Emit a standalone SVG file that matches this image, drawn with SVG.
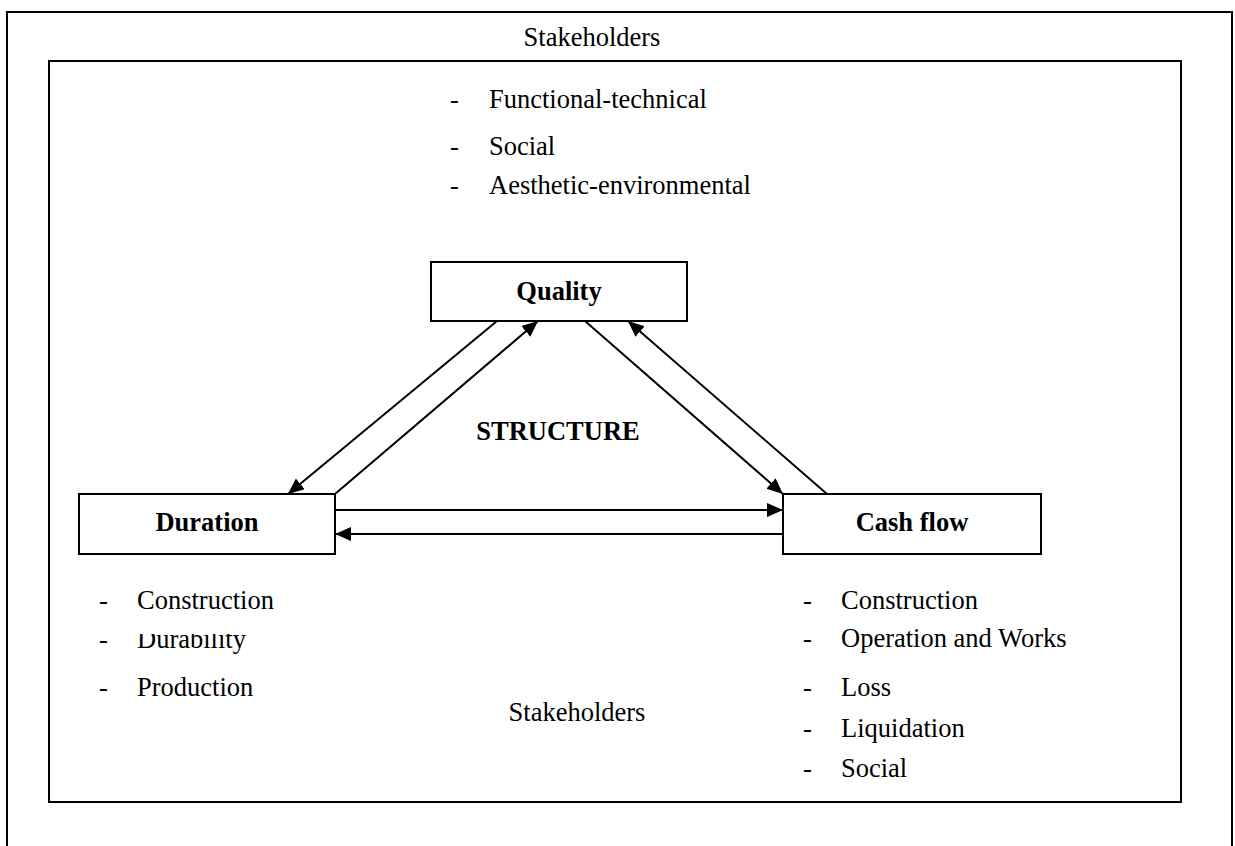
<svg xmlns="http://www.w3.org/2000/svg" width="1235" height="846" viewBox="0 0 1235 846">
<style>
.frame{fill:none;stroke:#000;stroke-width:2}
.box{fill:#fff;stroke:#000;stroke-width:2}
.t{font-family:"Liberation Serif","Times New Roman",serif;font-size:26.5px;fill:#000}
.b{font-weight:bold}
.c{stroke:#000;stroke-width:2;fill:none}
</style>
<defs>
<marker id="ah" markerUnits="userSpaceOnUse" markerWidth="18" markerHeight="15" refX="16" refY="7" orient="auto">
<path d="M0,0 L16,7 L0,14 z" fill="#000"/>
</marker>
<clipPath id="clipDur"><rect x="0" y="634" width="1235" height="40"/></clipPath>
</defs>
<g id="outer-frame"><rect class="frame" x="7" y="12" width="1225" height="900"/></g>
<g id="inner-frame"><rect class="frame" x="49" y="61" width="1132" height="741"/></g>
<g id="stakeholders-top"><text class="t" x="592" y="46" text-anchor="middle">Stakeholders</text></g>
<g id="quality-list">
<text class="t" x="450" y="108">-</text><text class="t" x="489" y="108">Functional-technical</text>
<text class="t" x="450" y="155">-</text><text class="t" x="489" y="155">Social</text>
<text class="t" x="450" y="194">-</text><text class="t" x="489" y="194">Aesthetic-environmental</text>
</g>
<g id="connectors">
<line class="c" x1="497" y1="321" x2="288" y2="494" marker-end="url(#ah)"/>
<line class="c" x1="335" y1="494" x2="538" y2="321" marker-end="url(#ah)"/>
<line class="c" x1="585" y1="321" x2="783" y2="494" marker-end="url(#ah)"/>
<line class="c" x1="827" y1="494" x2="628" y2="321" marker-end="url(#ah)"/>
<line class="c" x1="335" y1="510" x2="783" y2="510" marker-end="url(#ah)"/>
<line class="c" x1="783" y1="534" x2="335" y2="534" marker-end="url(#ah)"/>
</g>
<g id="quality"><rect class="box" x="431" y="262" width="256" height="59"/><text class="t b" x="559" y="300" text-anchor="middle">Quality</text></g>
<g id="duration"><rect class="box" x="79" y="494" width="256" height="60"/><text class="t b" x="207" y="531" text-anchor="middle">Duration</text></g>
<g id="cashflow"><rect class="box" x="783" y="494" width="258" height="60"/><text class="t b" x="912" y="531" text-anchor="middle">Cash flow</text></g>
<g id="structure"><text class="t b" x="558" y="440" text-anchor="middle">STRUCTURE</text></g>
<g id="duration-list">
<text class="t" x="99" y="609">-</text><text class="t" x="137" y="609">Construction</text>
<text class="t" x="99" y="648">-</text><text class="t" x="137" y="648" clip-path="url(#clipDur)">Durability</text>
<text class="t" x="99" y="696">-</text><text class="t" x="137" y="696">Production</text>
</g>
<g id="stakeholders-bottom"><text class="t" x="577" y="721" text-anchor="middle">Stakeholders</text></g>
<g id="cashflow-list">
<text class="t" x="803" y="609">-</text><text class="t" x="841" y="609">Construction</text>
<text class="t" x="803" y="647">-</text><text class="t" x="841" y="647">Operation and Works</text>
<text class="t" x="803" y="696">-</text><text class="t" x="841" y="696">Loss</text>
<text class="t" x="803" y="737">-</text><text class="t" x="841" y="737">Liquidation</text>
<text class="t" x="803" y="777">-</text><text class="t" x="841" y="777">Social</text>
</g>
</svg>
